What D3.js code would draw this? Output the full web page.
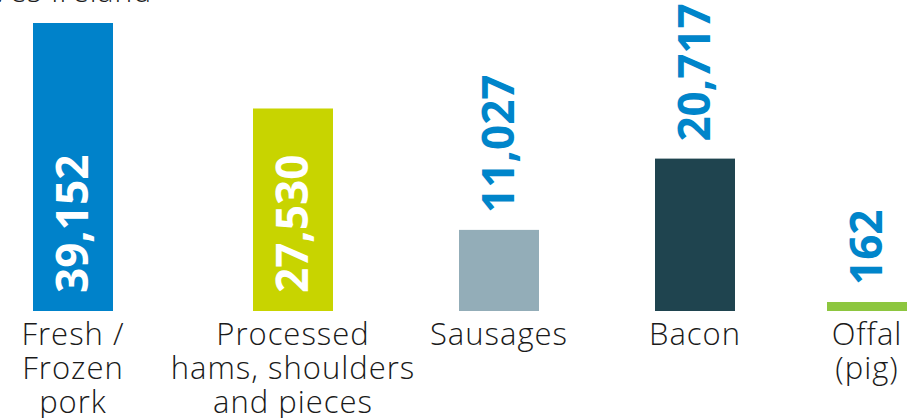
<!DOCTYPE html>
<html>
<head>
<meta charset="utf-8">
<script src="https://cdn.jsdelivr.net/npm/d3@7"></script>
<style>
  html, body { margin: 0; padding: 0; background: #fff; }
  svg { display: block; }
  .cat { font-family: 'Open Sans', sans-serif; font-weight: 300; font-size: 31px; letter-spacing: 1px; fill: #1a1a1a; }
  .val { font-family: 'Open Sans', sans-serif; font-weight: 700; font-size: 44px; }
  .title { font-family: 'Open Sans', sans-serif; font-weight: 300; font-size: 30px; letter-spacing: 1px; fill: #1a1a1a; }
</style>
</head>
<body>
<svg></svg>
<script>
// pig meat export volumes (tonnes) by category
const categories = ['Fresh / Frozen pork', 'Processed hams, shoulders and pieces', 'Sausages', 'Bacon', 'Offal (pig)'];
const labelLines = [['Fresh /', 'Frozen', 'pork'], ['Processed', 'hams, shoulders', 'and pieces'], ['Sausages'], ['Bacon'], ['Offal', '(pig)']];
const values = [39152, 27530, 11027, 20717, 162];
const colors = ['#0082ca', '#c8d400', '#93adb8', '#1f444f', '#8dc63f'];

const width = 909, height = 418;
const baseline = 311, plotTop = 23, barWidth = 80;
const minBar = 9;

const svg = d3.select('svg')
    .attr('width', width)
    .attr('height', height);

// title is mostly above the visible area
svg.append('text')
    .attr('class', 'title')
    .attr('x', 152)
    .attr('y', 2)
    .attr('text-anchor', 'end')
    .text('Export volumes by category/by/es Ireland');

const x = d3.scaleOrdinal()
    .domain(categories)
    .range([73, 293, 499, 695, 867]);
const y = d3.scaleLinear()
    .domain([0, d3.max(values)])
    .range([baseline, plotTop]);

const rows = categories.map((c, i) => ({cat: c, value: values[i], color: colors[i], lines: labelLines[i]}));
const barTop = d => Math.min(y(d.value), baseline - minBar);

svg.selectAll('rect.bar')
  .data(rows)
  .join('rect')
    .attr('class', 'bar')
    .attr('x', d => x(d.cat) - barWidth / 2)
    .attr('y', barTop)
    .attr('width', barWidth)
    .attr('height', d => baseline - barTop(d))
    .attr('fill', d => d.color);

// value labels: inside the tall bars, above the short ones
const fmt = d3.format(',');
svg.selectAll('text.val')
  .data(rows)
  .join('text')
    .attr('class', 'val')
    .each(function(d) {
      const inside = baseline - barTop(d) > 180;
      const ty = inside ? baseline - 18 : barTop(d) - 17;
      d3.select(this)
        .attr('transform', 'translate(' + x(d.cat) + ',' + ty + ') rotate(-90)')
        .attr('dy', '0.35em')
        .attr('fill', inside ? '#ffffff' : '#0085ca');
    })
    .text(d => fmt(d.value));

// category labels
const cats = svg.selectAll('text.cat')
  .data(rows)
  .join('text')
    .attr('class', 'cat')
    .attr('text-anchor', 'middle')
    .attr('x', d => x(d.cat))
    .attr('y', baseline + 34);
cats.selectAll('tspan')
  .data(d => d.lines.map(l => ({line: l, cx: x(d.cat)})))
  .join('tspan')
    .attr('x', d => d.cx)
    .attr('dy', (d, i) => i ? 34 : 0)
    .text(d => d.line);
</script>
</body>
</html>
